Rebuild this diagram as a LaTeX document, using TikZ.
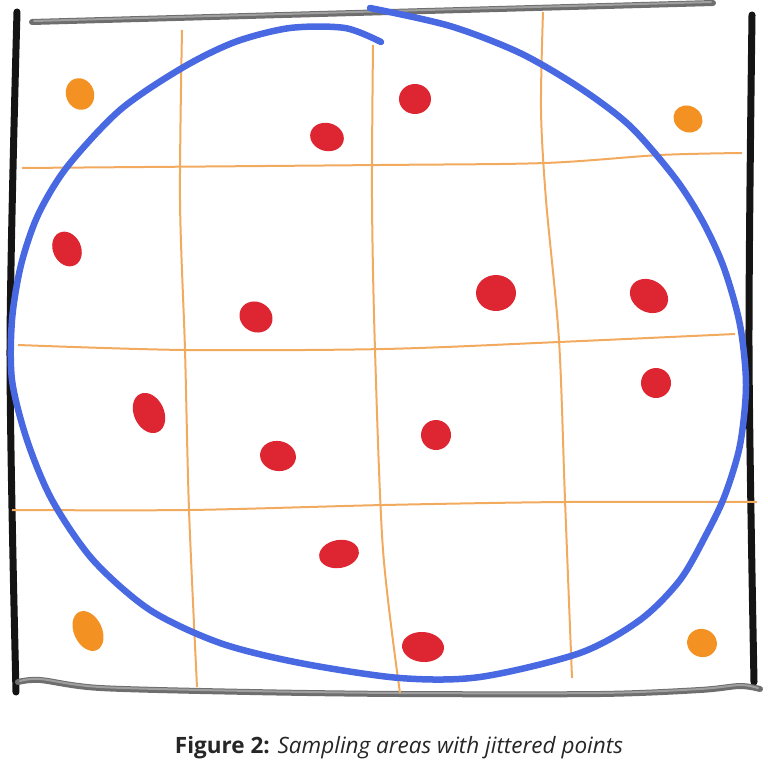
\documentclass[tikz,border=0pt]{standalone}
\usepackage{fontspec}
\setmainfont{Open Sans}
\definecolor{gridorange}{RGB}{242,170,95}
\definecolor{ringblue}{RGB}{72,105,225}
\definecolor{dotred}{RGB}{222,38,50}
\definecolor{dotorange}{RGB}{244,145,35}
\definecolor{railgray}{RGB}{110,110,110}

\begin{document}
\begin{tikzpicture}[x=1pt, y=-1pt,
    frameline/.style={line width=7pt, line cap=round, black!92},
    railline/.style={line width=6pt, line cap=round, railgray},
    railshine/.style={line width=2pt, line cap=round, gray!75},
    gridline/.style={line width=2pt, gridorange},
    ringline/.style={line width=6.5pt, line cap=round, ringblue}]
      \useasboundingbox (0,0) rectangle (768,765);
      % frame
      \draw[frameline] plot[smooth] coordinates {(17,12) (10,350) (16,692)};
      \draw[frameline] plot[smooth] coordinates {(752,15) (749,350) (754,682)};
      \draw[railline] (32,22) -- (713,3);
      \draw[railshine] (34,21) -- (711,2);
      \draw[railline] plot[smooth] coordinates {(18,682) (40,680) (100,688) (250,692)
            (400,694) (600,694) (700,690) (740,686) (760,689)};
      \draw[railshine] plot[smooth] coordinates {(20,681) (40,679) (100,687) (250,691)
            (400,693) (600,693) (700,689) (740,685) (758,688)};
      % grid
      \draw[gridline] plot[smooth] coordinates {(182,30) (180,200) (185,350) (189,510) (197,687)};
      \draw[gridline] plot[smooth] coordinates {(373,45) (372,200) (375,350) (383,550) (400,693)};
      \draw[gridline] plot[smooth] coordinates {(543,12) (541,110) (546,200) (559,340) (565,500) (572,678)};
      \draw[gridline] plot[smooth] coordinates {(22,168) (380,165) (545,163) (660,155) (742,153)};
      \draw[gridline] plot[smooth] coordinates {(18,345) (185,350) (384,349) (559,342) (735,334)};
      \draw[gridline] plot[smooth] coordinates {(12,510) (189,510) (384,505) (565,502) (757,502)};
      % sampling area
      \draw[ringline] plot[smooth] coordinates {(381,42) (345,28) (290,28) (235,42) (182,68)
            (120,110) (67,167) (38,215) (21,265) (12,320) (12,380) (27,440) (52,500) (93,560)
            (150,610) (220,643) (300,663) (400,678) (480,677) (580,653) (640,620) (680,580)
            (707,533) (725,495) (740,445) (746,385) (740,325) (724,268) (703,222) (675,178)
            (630,126) (580,88) (520,53) (450,26) (370,8)};
      % points
      \foreach \x/\y/\a/\b/\r in {80/94/14/16/20, 688/119/15/13/-30, 88/631/14/21/25, 702/643/15/14/-20}
        \fill[dotorange, rotate around={\r:(\x,\y)}] (\x,\y) ellipse ({\a} and {\b});
      \foreach \x/\y/\a/\b/\r in {327/137/17/14/-15, 415/99/16/15/0, 67/249/14/18/25,
            256/317/17/15/-30, 149/413/15/21/25, 278/456/18/15/-10, 496/293/20/18/0,
            649/296/20/16/-30, 656/383/15/15/0, 436/435/15/15/0, 339/554/20/14/10, 423/647/21/15/-5}
        \fill[dotred, rotate around={\r:(\x,\y)}] (\x,\y) ellipse ({\a} and {\b});
      % caption
      \node[font=\fontsize{22.5}{27}\selectfont, text=black!85] (caption) at (399,748)
            {\textbf{Figure 2:} \textit{Sampling areas with jittered points}};
    \end{tikzpicture}
\end{document}
